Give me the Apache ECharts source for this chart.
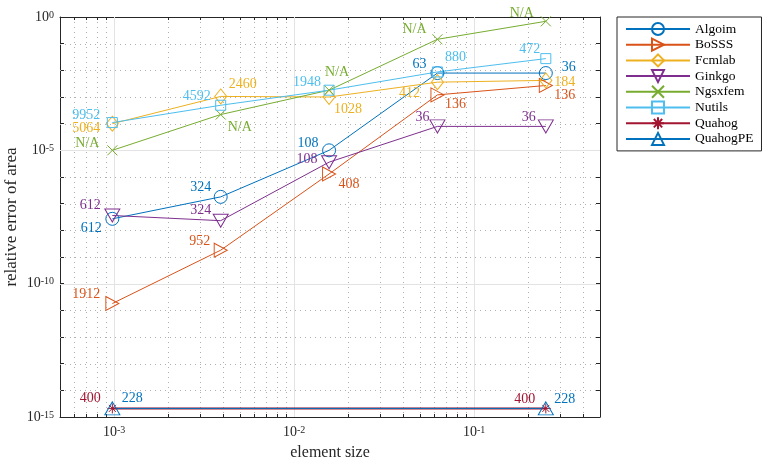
<!DOCTYPE html>
<html>
<head>
<meta charset="utf-8">
<script src="https://cdn.jsdelivr.net/npm/echarts@6/dist/echarts.min.js"></script>
<style>
html, body { margin: 0; padding: 0; background: #fff; }
#chart { width: 768px; height: 464px; }
</style>
</head>
<body>
<div id="chart"></div>
<script>
// element sizes (x) for the refinement levels
var sizes = [0.0009765625, 0.00390625, 0.015625, 0.0625, 0.25];
var sizesQuahog = [0.0009765625, 0.25];

// relative error of area, per tool
var algoim = [2.7e-8, 1.8e-7, 1.0e-5, 7.9e-3, 7.9e-3];
var bosss = [1.8e-11, 1.8e-9, 1.3e-6, 1.2e-3, 2.7e-3];
var fcmlab = [1.0e-4, 1.05e-3, 1.0e-3, 3.6e-3, 4.2e-3];
var ginkgo = [3.6e-8, 2.3e-8, 3.6e-6, 7.9e-5, 7.9e-5];
var ngsxfem = [1.0e-5, 2.2e-4, 1.8e-3, 0.146, 0.69];
var nutils = [1.1e-4, 4.9e-4, 1.8e-3, 8.7e-3, 2.75e-2];
var quahog = [2.1e-15, 2.1e-15];
var quahogPE = [2.1e-15, 2.1e-15];

// annotation next to each point
var algoimText = ['612', '324', '108', '63', '36'];
var bosssText = ['1912', '952', '408', '136', '136'];
var fcmlabText = ['5064', '2460', '1028', '412', '184'];
var ginkgoText = ['612', '324', '108', '36', '36'];
var ngsxfemText = ['N/A', 'N/A', 'N/A', 'N/A', 'N/A'];
var nutilsText = ['9952', '4592', '1948', '880', '472'];
var quahogText = ['400', '400'];
var quahogPEText = ['228', '228'];

// grid line positions
var xMajor = [1e-3, 1e-2, 1e-1];
var xMinor = [6e-4, 7e-4, 8e-4, 9e-4, 2e-3, 3e-3, 4e-3, 5e-3, 6e-3, 7e-3, 8e-3, 9e-3,
  2e-2, 3e-2, 4e-2, 5e-2, 6e-2, 7e-2, 8e-2, 9e-2, 2e-1, 3e-1, 4e-1];
var yMajor = [1e-5, 1e-10];
var yMinor = [1e-1, 1e-2, 1e-3, 1e-4, 1e-6, 1e-7, 1e-8, 1e-9, 1e-11, 1e-12, 1e-13, 1e-14];

// label offsets (layout only)
var algoimOff = [[-21, 9], [-20, -10], [-21, -7], [-18, -9], [23, -6]];
var bosssOff = [[-26, -9], [-21, -9], [20, 10], [18, 9], [19, 10]];
var fcmlabOff = [[-26, 5], [22, -12], [19, 12], [-28, 11], [19, 2]];
var ginkgoOff = [[-22, -10], [-20, -10], [-22, -3], [-15, -9], [-17, -9]];
var ngsxfemOff = [[-25, -7], [19, 13], [8, -18], [-23, -10], [-24, -8]];
var nutilsOff = [[-26, -7], [-24, -9], [-22, -8], [18, -15], [-16, -9]];
var quahogOff = [[-22, -10], [-21, -9]];
var quahogPEOff = [[20, -10], [19, -9]];

var FONT = 'Liberation Serif';
var AX = '#262626';

function mkSeries(name, color, xs, ys, texts, offs, symbol, size, lw) {
	var data = [];
	for (var i = 0; i < ys.length; i++) {
		data.push({
			value: [xs[i], ys[i]],
			label: { formatter: texts[i], offset: offs[i] }
		});
	}
	return {
		name: name,
		type: 'line',
		data: data,
		symbol: symbol,
		symbolSize: size,
		z: 5,
		lineStyle: { color: color, width: lw || 1 },
		itemStyle: { color: 'transparent', borderColor: color, borderWidth: 1 },
		label: {
			show: true, position: 'inside', color: color,
			fontFamily: FONT, fontSize: 14, align: 'center', verticalAlign: 'middle'
		},
		emphasis: { disabled: true },
		animation: false
	};
}

function gridSeries(values, vertical, major) {
	return {
		type: 'custom',
		silent: true,
		z: 1,
		animation: false,
		data: values.map(function(v) { return vertical ? [v, 1e-15] : [5e-4, v]; }),
		renderItem: function(params, api) {
			var cs = params.coordSys;
			var style = major
				? { stroke: '#e3e3e3', lineWidth: 1 }
				: { stroke: '#b0b0b0', lineWidth: 1, lineDash: [1, 4] };
			var kids = [];
			if (vertical) {
				var x = Math.round(api.coord([api.value(0), 1])[0]) + 0.5;
				kids.push({ type: 'line', shape: { x1: x, y1: cs.y, x2: x, y2: cs.y + cs.height }, style: style });
				if (!major) {
					kids.push({ type: 'line', shape: { x1: x, y1: cs.y + cs.height, x2: x, y2: cs.y + cs.height - 3 }, style: { stroke: AX, lineWidth: 1 } });
					kids.push({ type: 'line', shape: { x1: x, y1: cs.y, x2: x, y2: cs.y + 3 }, style: { stroke: AX, lineWidth: 1 } });
				}
			} else {
				var y = Math.round(api.coord([1e-3, api.value(1)])[1]) + 0.5;
				kids.push({ type: 'line', shape: { x1: cs.x, y1: y, x2: cs.x + cs.width, y2: y }, style: style });
			}
			return { type: 'group', children: kids };
		}
	};
}

function pow10(v) {
	var e = Math.round(Math.log(v) / Math.LN10);
	return '{b|10}{s|' + e + '}';
}

var richLab = {
	b: { fontFamily: FONT, fontSize: 14, color: AX },
	s: { fontFamily: FONT, fontSize: 10, color: AX, verticalAlign: 'top', lineHeight: 10 }
};

var chart = echarts.init(document.getElementById('chart'));
var option = {
	backgroundColor: '#fff',
	animation: false,
	grid: { left: 60, top: 17, width: 540, height: 400, containLabel: false, outerBoundsMode: 'none' },
	legend: {
		orient: 'vertical',
		left: 617,
		top: 17,
		padding: [5, 8, 5, 8],
		itemWidth: 64,
		itemHeight: 15,
		itemGap: 1.7,
		borderColor: AX,
		borderWidth: 1,
		backgroundColor: '#fff',
		textStyle: { fontFamily: FONT, fontSize: 13.5, color: '#000' },
		data: ['Algoim', 'BoSSS', 'Fcmlab', 'Ginkgo', 'Ngsxfem', 'Nutils', 'Quahog', 'QuahogPE']
	},
	xAxis: [{
		type: 'log', logBase: 10, min: 5e-4, max: 0.5, position: 'bottom',
		name: 'element size', nameLocation: 'middle', nameGap: 28, nameMoveOverlap: false,
		nameTextStyle: { fontFamily: FONT, fontSize: 16, color: AX },
		axisLine: { lineStyle: { color: AX } },
		axisTick: { inside: true, length: 5, lineStyle: { color: AX } },
		axisLabel: { formatter: pow10, rich: richLab, margin: 8, showMinLabel: false, showMaxLabel: false },
		splitLine: { show: false }
	}, {
		type: 'log', logBase: 10, min: 5e-4, max: 0.5, position: 'top',
		axisLine: { lineStyle: { color: AX } },
		axisTick: { inside: true, length: 5, lineStyle: { color: AX } },
		axisLabel: { show: false },
		splitLine: { show: false }
	}],
	yAxis: [{
		type: 'log', logBase: 10, min: 1e-15, max: 1, interval: 1, position: 'left',
		name: 'relative error of area', nameLocation: 'middle', nameGap: 40, nameMoveOverlap: false,
		nameTextStyle: { fontFamily: FONT, fontSize: 17, color: AX },
		axisLine: { show: true, lineStyle: { color: AX } },
		axisTick: { inside: true, length: 4, lineStyle: { color: AX } },
		axisLabel: {
			margin: 6, rich: richLab, showMinLabel: true, showMaxLabel: true,
			formatter: function(v) {
				var e = Math.round(Math.log(v) / Math.LN10);
				return e % 5 === 0 ? pow10(v) : '';
			}
		},
		splitLine: { show: false }
	}, {
		type: 'log', logBase: 10, min: 1e-15, max: 1, interval: 1, position: 'right',
		axisLine: { show: true, lineStyle: { color: AX } },
		axisTick: { inside: true, length: 4, lineStyle: { color: AX } },
		axisLabel: { show: false },
		splitLine: { show: false }
	}],
	series: [
		gridSeries(xMinor, true, false),
		gridSeries(yMinor, false, false),
		gridSeries(xMajor, true, true),
		gridSeries(yMajor, false, true),
		mkSeries('Algoim', '#0072BD', sizes, algoim, algoimText, algoimOff, 'circle', 13),
		mkSeries('BoSSS', '#D95319', sizes, bosss, bosssText, bosssOff, 'path://M0,0L10,5L0,10Z', [13, 14]),
		mkSeries('Fcmlab', '#EDB120', sizes, fcmlab, fcmlabText, fcmlabOff, 'diamond', [12, 15]),
		mkSeries('Ginkgo', '#7E2F8E', sizes, ginkgo, ginkgoText, ginkgoOff, 'path://M0,0L10,0L5,9Z', [15, 13]),
		mkSeries('Ngsxfem', '#77AC30', sizes, ngsxfem, ngsxfemText, ngsxfemOff, 'path://M0,0L10,10M10,0L0,10', 10),
		mkSeries('Nutils', '#4DBEEE', sizes, nutils, nutilsText, nutilsOff, 'rect', 10),
		mkSeries('Quahog', '#A2142F', sizesQuahog, quahog, quahogText, quahogOff, 'path://M5,0L5,10M0,5L10,5M1.5,1.5L8.5,8.5M8.5,1.5L1.5,8.5', 10, 2),
		mkSeries('QuahogPE', '#0072BD', sizesQuahog, quahogPE, quahogPEText, quahogPEOff, 'path://M5,0L10,9L0,9Z', [15, 13], 1)
	]
};
chart.setOption(option);
</script>
</body>
</html>
